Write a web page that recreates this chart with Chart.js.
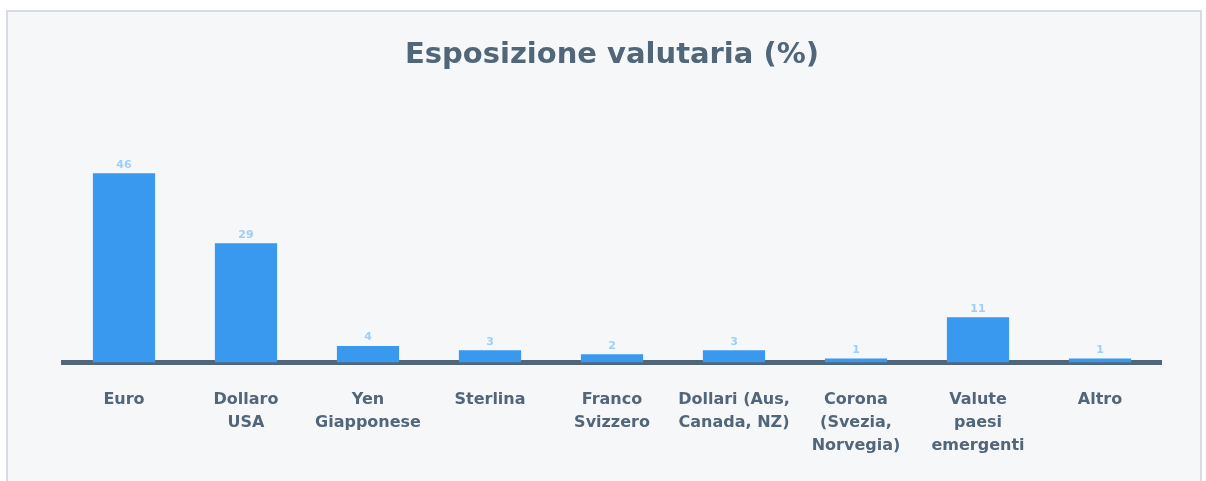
<!DOCTYPE html>
<html>
<head>
<meta charset="utf-8">
<script src="https://cdn.jsdelivr.net/npm/chart.js@4.4.0/dist/chart.umd.min.js"></script>
<style>
  html, body { margin: 0; padding: 0; background: #ffffff; }
  #card {
    position: absolute; left: 6px; top: 10px; width: 1196px; height: 480px;
    background: #f6f7f9; border: 2px solid #d8dce2; box-sizing: border-box;
  }
  #wrap { position: absolute; left: 0; top: 0; width: 1206px; height: 481px; }
</style>
</head>
<body>
<div id="card"></div>
<div id="wrap"><canvas id="valuteChart"></canvas></div>
<script>
  // categorie e valori (%)
  var categorie = [
    "Euro",
    ["Dollaro", "USA"],
    ["Yen", "Giapponese"],
    "Sterlina",
    ["Franco", "Svizzero"],
    ["Dollari (Aus,", "Canada, NZ)"],
    ["Corona", "(Svezia,", "Norvegia)"],
    ["Valute", "paesi", "emergenti"],
    "Altro"
  ];
  var esposizione = [46, 29, 4, 3, 2, 3, 1, 11, 1];

  var slate = "#52667a";

  // etichette dei valori sopra le barre
  var valueLabels = {
    id: "valueLabels",
    afterDatasetsDraw: function (chart) {
      var ctx = chart.ctx;
      var meta = chart.getDatasetMeta(0);
      ctx.save();
      ctx.font = "bold 11px 'DejaVu Sans'";
      ctx.fillStyle = "#9ccffa";
      ctx.textAlign = "center";
      ctx.textBaseline = "bottom";
      meta.data.forEach(function (bar, i) {
        ctx.fillText(chart.data.datasets[0].data[i], bar.x, bar.y - 3);
      });
      ctx.restore();
    }
  };

  var canvas = document.getElementById("valuteChart");
  new Chart(canvas, {
    type: "bar",
    data: {
      labels: categorie,
      datasets: [{
        data: esposizione,
        backgroundColor: "#3899ef",
        categoryPercentage: 1,
        barPercentage: 0.51
      }]
    },
    options: {
      responsive: true,
      maintainAspectRatio: false,
      animation: false,
      layout: { padding: { left: 63, right: 45, top: 0, bottom: 0 } },
      plugins: {
        legend: { display: false },
        tooltip: { enabled: false },
        title: {
          display: true,
          text: "Esposizione valutaria (%)",
          color: slate,
          font: { family: "'DejaVu Sans'", size: 29, weight: "bold", lineHeight: 1.2 },
          padding: { top: 38, bottom: 84 }
        }
      },
      scales: {
        x: {
          grid: { display: false, drawTicks: false },
          border: { color: slate, width: 5 },
          ticks: {
            color: slate,
            padding: 26,
            maxRotation: 0,
            autoSkip: false,
            font: { family: "'DejaVu Sans'", size: 16, weight: "bold", lineHeight: 1.44 }
          },
          afterFit: function (scale) { scale.height = 118.5; }
        },
        y: {
          display: false,
          min: 0,
          max: 50
        }
      }
    },
    plugins: [valueLabels]
  });
</script>
</body>
</html>
